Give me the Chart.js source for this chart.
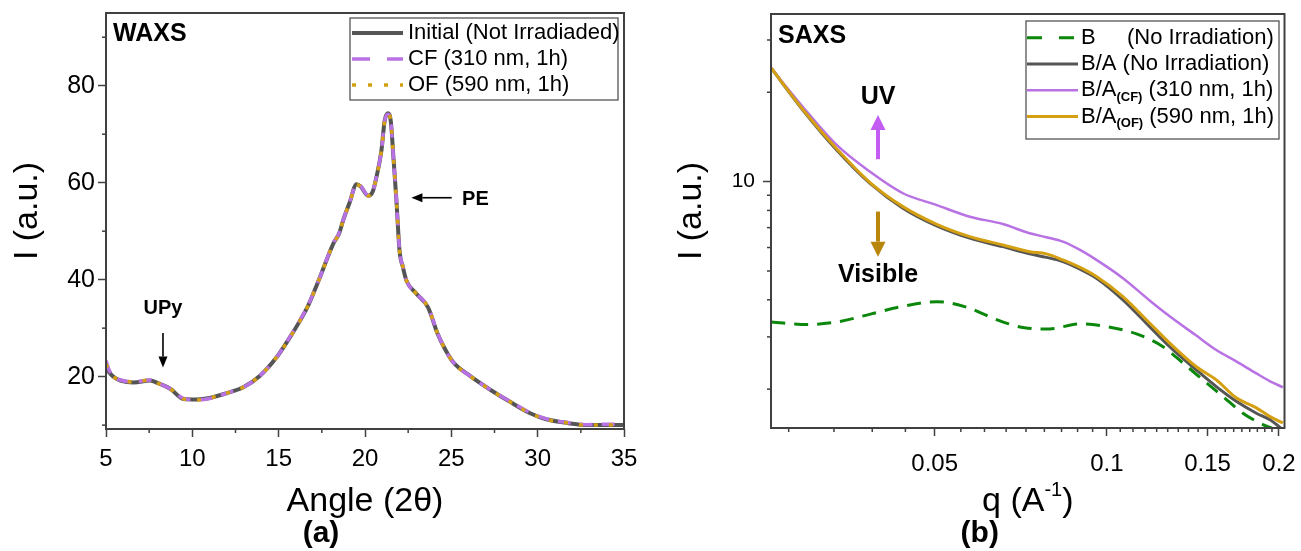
<!DOCTYPE html>
<html><head><meta charset="utf-8">
<script src="https://cdn.jsdelivr.net/npm/chart.js@4.4.1/dist/chart.umd.min.js"></script>
<style>
html,body{margin:0;padding:0;background:#fff;}
#wrap{position:relative;width:1301px;height:551px;overflow:hidden;}
#c1{position:absolute;left:0;top:0;width:650px;height:551px;}
#c2{position:absolute;left:650px;top:0;width:651px;height:551px;}
</style></head><body>
<div id="wrap"><canvas id="c1" width="650" height="551"></canvas><canvas id="c2" width="651" height="551"></canvas></div>
<script>
// ---------------- WAXS data (panel a) ----------------
const waxsAngle = [5.0, 5.2, 5.5, 5.83, 6.6, 7.56, 8.04, 8.72, 9.49, 10.26, 11.0, 12.0, 12.95, 13.92, 14.88, 15.65, 16.23, 16.7, 17.39, 18.16, 18.5, 18.73, 19.1, 19.51, 19.75, 20.18, 20.45, 20.66, 20.95, 21.14, 21.34, 21.5, 21.65, 21.82, 22.0, 22.2, 22.4, 22.98, 23.65, 24.2, 24.6, 25.1, 26.1, 27.3, 28.4, 29.6, 30.5, 31.8, 32.8, 34.0, 35.0];
const waxsInitial = [22.0, 20.8, 19.8, 19.2, 18.8, 19.2, 18.6, 17.5, 15.4, 15.3, 15.6, 16.6, 17.8, 20.2, 24.0, 28.1, 31.5, 34.6, 40.5, 47.4, 49.5, 52.2, 55.8, 59.7, 59.2, 57.3, 58.2, 61.1, 66.6, 72.8, 74.3, 72.5, 65.0, 56.3, 46.0, 42.5, 39.8, 37.1, 34.3, 28.9, 25.9, 23.0, 20.1, 17.2, 14.8, 12.4, 11.2, 10.4, 10.0, 10.0, 10.0];
const waxsCF      = [23.3, 21.2, 19.9, 19.3, 18.9, 19.3, 18.6, 17.5, 15.5, 15.2, 15.5, 16.6, 17.8, 20.2, 24.0, 28.2, 31.6, 34.7, 40.5, 47.5, 49.6, 52.2, 55.9, 59.6, 59.3, 57.4, 58.2, 61.2, 66.6, 72.7, 74.1, 72.4, 65.1, 56.4, 46.1, 42.6, 39.8, 37.1, 34.4, 29.0, 25.9, 23.0, 20.1, 17.2, 14.9, 12.5, 11.3, 10.5, 10.1, 10.2, 10.2];
const waxsOF      = [22.6, 21.0, 19.8, 19.3, 18.9, 19.3, 18.6, 17.5, 15.4, 15.2, 15.6, 16.6, 17.8, 20.2, 24.0, 28.1, 31.5, 34.6, 40.5, 47.4, 49.5, 52.2, 55.8, 59.6, 59.2, 57.3, 58.2, 61.1, 66.6, 72.7, 74.2, 72.5, 65.0, 56.3, 46.0, 42.5, 39.8, 37.1, 34.3, 28.9, 25.9, 23.0, 20.1, 17.2, 14.8, 12.4, 11.2, 10.4, 10.0, 10.0, 10.0];
const waxsXTicks = [5, 10, 15, 20, 25, 30, 35];
const waxsXMinor = [7.5, 12.5, 17.5, 22.5, 27.5, 32.5];
const waxsYTicks = [20, 40, 60, 80];
const waxsYMinor = [10, 30, 50, 70, 90];

// ---------------- SAXS data (panel b) ----------------
const saxsQ  = [0.0259, 0.0294, 0.0337, 0.0385, 0.0440, 0.0503, 0.0576, 0.0658, 0.0733, 0.0784, 0.0838, 0.0896, 0.0959, 0.1067, 0.1188, 0.1288, 0.1434, 0.1554, 0.1684, 0.1826, 0.1926, 0.2032];
const saxsBA = [24.1, 17.43, 12.78, 9.88, 8.14, 7.11, 6.45, 6.04, 5.71, 5.56, 5.38, 5.08, 4.73, 4.00, 3.25, 2.78, 2.32, 2.04, 1.82, 1.66, 1.58, 1.46];
const saxsCF = [24.1, 17.88, 13.29, 10.81, 9.14, 8.35, 7.62, 7.20, 6.70, 6.50, 6.28, 5.90, 5.45, 4.73, 3.98, 3.52, 3.03, 2.71, 2.48, 2.26, 2.13, 2.03];
const saxsOF = [24.1, 17.50, 12.90, 9.95, 8.24, 7.20, 6.53, 6.12, 5.81, 5.71, 5.45, 5.15, 4.79, 4.10, 3.34, 2.86, 2.38, 2.15, 1.87, 1.73, 1.62, 1.54];
const saxsBQ = [0.0259, 0.0300, 0.0338, 0.0386, 0.0434, 0.0505, 0.0568, 0.0639, 0.0718, 0.0794, 0.0896, 0.0998, 0.1127, 0.1254, 0.1359, 0.1472, 0.1596, 0.1730, 0.1874, 0.1979];
const saxsB  = [3.37, 3.30, 3.37, 3.58, 3.78, 3.94, 3.78, 3.44, 3.22, 3.19, 3.32, 3.25, 3.07, 2.78, 2.45, 2.15, 1.89, 1.66, 1.52, 1.46];
const saxsXTicks = [0.05, 0.1, 0.15, 0.2];
const saxsYTicks = [10];
const saxsYMinor = [2, 3, 4, 5, 6, 7, 8, 9, 20, 30];
const saxsXMinor = [];
for (let k = 5; k <= 36; k++) { if (k % 9 !== 0) saxsXMinor.push(0.05 * k / 9); }

// ---------------- styling ----------------
const FONT = "'Liberation Sans', Arial, Helvetica, sans-serif";
const AXIS = '#404040';
const C_GRAY = '#555555', C_PURPLE = '#b872e4', C_GOLD = '#d4a012', C_GREEN = '#0b870b';
Chart.defaults.font.family = FONT;

const pts = (xs, ys) => xs.map((x, i) => ({ x: x, y: ys[i] }));

function drawArrow(ctx, x1, y1, x2, y2, color, lw, headLen, headW) {
  const ang = Math.atan2(y2 - y1, x2 - x1);
  const bx = x2 - headLen * Math.cos(ang), by = y2 - headLen * Math.sin(ang);
  ctx.save();
  ctx.strokeStyle = color; ctx.fillStyle = color; ctx.lineWidth = lw;
  ctx.beginPath(); ctx.moveTo(x1, y1); ctx.lineTo(bx, by); ctx.stroke();
  ctx.beginPath(); ctx.moveTo(x2, y2);
  ctx.lineTo(bx + headW / 2 * Math.sin(ang), by - headW / 2 * Math.cos(ang));
  ctx.lineTo(bx - headW / 2 * Math.sin(ang), by + headW / 2 * Math.cos(ang));
  ctx.closePath(); ctx.fill();
  ctx.restore();
}

function drawLegend(chart, box, rows) {
  const ctx = chart.ctx;
  ctx.save();
  ctx.fillStyle = '#fff'; ctx.fillRect(box.x, box.y, box.w, box.h);
  ctx.strokeStyle = '#555'; ctx.lineWidth = 1.3; ctx.strokeRect(box.x, box.y, box.w, box.h);
  rows.forEach((r, i) => {
    const ds = chart.data.datasets[r.ds];
    const y = box.y + box.row0 + i * box.dy;
    ctx.strokeStyle = ds.borderColor; ctx.lineWidth = ds.borderWidth;
    ctx.setLineDash(r.dash || ds.borderDash || []);
    ctx.beginPath(); ctx.moveTo(box.x + box.s0, y); ctx.lineTo(box.x + box.s1, y); ctx.stroke();
    ctx.setLineDash([]);
    let x = box.x + box.tx;
    ctx.fillStyle = '#000'; ctx.textBaseline = 'middle'; ctx.textAlign = 'left';
    r.parts.forEach(p => {
      ctx.font = p.font;
      if (p.at != null) x = box.x + p.at;
      ctx.fillText(p.t, x, y + (p.dy || 0));
      x += ctx.measureText(p.t).width;
    });
  });
  ctx.restore();
}

function minorTickPlugin(xMinor, yMinor, len) {
  return {
    id: 'minorTicks',
    afterDatasetsDraw(chart) {
      const ctx = chart.ctx, a = chart.chartArea;
      ctx.save(); ctx.strokeStyle = AXIS; ctx.lineWidth = 1.5;
      xMinor.forEach(v => {
        const px = chart.scales.x.getPixelForValue(v);
        if (px < a.left - 0.5 || px > a.right + 0.5) return;
        ctx.beginPath(); ctx.moveTo(px, a.bottom); ctx.lineTo(px, a.bottom + len); ctx.stroke();
      });
      yMinor.forEach(v => {
        const py = chart.scales.y.getPixelForValue(v);
        if (py < a.top - 0.5 || py > a.bottom + 0.5) return;
        ctx.beginPath(); ctx.moveTo(a.left, py); ctx.lineTo(a.left - len, py); ctx.stroke();
      });
      ctx.lineWidth = 2; ctx.strokeStyle = AXIS;
      ctx.strokeRect(a.left, a.top, a.right - a.left, a.bottom - a.top);
      ctx.restore();
    }
  };
}

function zeroPad(s) { s.paddingTop = 0; s.paddingBottom = 0; s.paddingLeft = 0; s.paddingRight = 0; }

function baseScales(xType, yType, xMin, xMax, yMin, yMax, xTicks, yTicks, yAxisWidth, xAxisHeight, xPad, yPad, yFont) {
  return {
    x: {
      type: xType, min: xMin, max: xMax,
      afterBuildTicks: s => { s.ticks = xTicks.map(v => ({ value: v })); },
      afterFit: s => { s.height = xAxisHeight; zeroPad(s); },
      ticks: { autoSkip: false, maxRotation: 0, minRotation: 0, padding: xPad, color: '#000', font: { family: FONT, size: 24 },
               callback: v => String(v) },
      grid: { drawOnChartArea: false, drawTicks: true, tickLength: 8, tickColor: AXIS, tickWidth: 1.5 },
      border: { display: false }
    },
    y: {
      type: yType, min: yMin, max: yMax,
      afterBuildTicks: s => { s.ticks = yTicks.map(v => ({ value: v })); },
      afterFit: s => { s.width = yAxisWidth; zeroPad(s); },
      ticks: { autoSkip: false, padding: yPad, color: '#000', font: { family: FONT, size: yFont },
               callback: v => String(v) },
      grid: { drawOnChartArea: false, drawTicks: true, tickLength: 8, tickColor: AXIS, tickWidth: 1.5 },
      border: { display: false }
    }
  };
}

// ---------------- Chart (a) WAXS ----------------
new Chart(document.getElementById('c1'), {
  type: 'line',
  data: {
    datasets: [
      { label: 'Initial (Not Irradiaded)', data: pts(waxsAngle, waxsInitial), borderColor: C_GRAY, borderWidth: 4, order: 2 },
      { label: 'CF (310 nm, 1h)', data: pts(waxsAngle, waxsCF), borderColor: C_PURPLE, borderWidth: 3.5, borderDash: [13, 9], order: 1 },
      { label: 'OF (590 nm, 1h)', data: pts(waxsAngle, waxsOF), borderColor: C_GOLD, borderWidth: 3.5, borderDash: [4, 11], order: 0 }
    ]
  },
  options: {
    responsive: false, animation: false, devicePixelRatio: 1,
    layout: { padding: { left: 0, top: 13, right: 26, bottom: 0 } },
    elements: { point: { radius: 0 }, line: { cubicInterpolationMode: 'monotone', borderCapStyle: 'butt', fill: false } },
    plugins: { legend: { display: false }, tooltip: { enabled: false } },
    scales: baseScales('linear', 'linear', 5, 35, 9.2, 95, waxsXTicks, waxsYTicks, 106, 122, 8, 3, 25)
  },
  plugins: [
    minorTickPlugin(waxsXMinor, waxsYMinor, 4),
    {
      id: 'decorA',
      afterDraw(chart) {
        const ctx = chart.ctx, a = chart.chartArea, sx = chart.scales.x, sy = chart.scales.y;
        ctx.save();
        ctx.fillStyle = '#000'; ctx.textBaseline = 'middle'; ctx.textAlign = 'left';
        ctx.font = 'bold 25px ' + FONT;
        ctx.fillText('WAXS', a.left + 7, a.top + 21);
        ctx.font = 'bold 20px ' + FONT; ctx.textAlign = 'center';
        ctx.fillText('UPy', sx.getPixelForValue(8.3), sy.getPixelForValue(34.0));
        drawArrow(ctx, sx.getPixelForValue(8.3), sy.getPixelForValue(29.0), sx.getPixelForValue(8.3), sy.getPixelForValue(21.9), '#000', 1.6, 11, 9);
        ctx.textAlign = 'left';
        ctx.fillText('PE', sx.getPixelForValue(25.62), sy.getPixelForValue(56.6));
        drawArrow(ctx, sx.getPixelForValue(25.02), sy.getPixelForValue(56.9), sx.getPixelForValue(22.69), sy.getPixelForValue(56.9), '#000', 1.6, 11, 9);
        const cx = (a.left + a.right) / 2;
        ctx.textBaseline = 'alphabetic'; ctx.textAlign = 'center';
        ctx.font = '34px ' + FONT;
        ctx.fillText('Angle (2\u03B8)', cx, 511);
        ctx.font = 'bold 30px ' + FONT;
        ctx.fillText('(a)', cx - 44, 542);
        ctx.save();
        ctx.translate(37, 211); ctx.rotate(-Math.PI / 2);
        ctx.font = '34px ' + FONT; ctx.textAlign = 'center';
        ctx.fillText('I (a.u.)', 0, 0);
        ctx.restore();
        ctx.restore();
        const F = '22px ' + FONT;
        drawLegend(chart, { x: a.right - 274, y: a.top + 5, w: 268, h: 82, row0: 15, dy: 26, s0: 2, s1: 53, tx: 58 }, [
          { ds: 0, parts: [{ t: 'Initial (Not Irradiaded)', font: F }] },
          { ds: 1, dash: [18, 17], parts: [{ t: 'CF (310 nm, 1h)', font: F }] },
          { ds: 2, dash: [4, 12], parts: [{ t: 'OF (590 nm, 1h)', font: F }] }
        ]);
      }
    }
  ]
});

// ---------------- Chart (b) SAXS ----------------
new Chart(document.getElementById('c2'), {
  type: 'line',
  data: {
    datasets: [
      { label: 'B (No Irradiation)', data: pts(saxsBQ, saxsB), borderColor: C_GREEN, borderWidth: 3, borderDash: [14, 9], order: 3 },
      { label: 'B/A (No Irradiation)', data: pts(saxsQ, saxsBA), borderColor: C_GRAY, borderWidth: 3, order: 2 },
      { label: 'B/A(CF) (310 nm, 1h)', data: pts(saxsQ, saxsCF), borderColor: C_PURPLE, borderWidth: 2.5, order: 1 },
      { label: 'B/A(OF) (590 nm, 1h)', data: pts(saxsQ, saxsOF), borderColor: C_GOLD, borderWidth: 3, order: 0 }
    ]
  },
  options: {
    responsive: false, animation: false, devicePixelRatio: 1,
    layout: { padding: { left: 0, top: 14, right: 16.5, bottom: 0 } },
    elements: { point: { radius: 0 }, line: { cubicInterpolationMode: 'monotone', borderCapStyle: 'butt', fill: false } },
    plugins: { legend: { display: false }, tooltip: { enabled: false } },
    scales: baseScales('logarithmic', 'logarithmic', 0.02587, 0.2045, 1.48, 36.7, saxsXTicks, saxsYTicks, 121, 123, 14, 8, 21)
  },
  plugins: [
    minorTickPlugin(saxsXMinor, saxsYMinor, 4),
    {
      id: 'decorB',
      afterDraw(chart) {
        const ctx = chart.ctx, a = chart.chartArea, sx = chart.scales.x, sy = chart.scales.y;
        ctx.save();
        ctx.fillStyle = '#000'; ctx.textBaseline = 'middle'; ctx.textAlign = 'left';
        ctx.font = 'bold 25px ' + FONT;
        ctx.fillText('SAXS', a.left + 7, a.top + 22);
        const qa = sx.getPixelForValue(0.0398);
        ctx.textAlign = 'center';
        ctx.fillText('UV', qa, sy.getPixelForValue(19.3));
        ctx.fillText('Visible', qa, sy.getPixelForValue(4.83));
        drawArrow(ctx, qa, sy.getPixelForValue(11.9), qa, sy.getPixelForValue(16.77), '#c25cf2', 4, 15, 15);
        drawArrow(ctx, qa, sy.getPixelForValue(7.93), qa, sy.getPixelForValue(5.59), '#b8860b', 4, 15, 15);
        const cx = (a.left + a.right) / 2;
        ctx.textBaseline = 'alphabetic';
        ctx.font = '34px ' + FONT;
        const t1 = 'q (A', t2 = '-1', t3 = ')';
        const w1 = ctx.measureText(t1).width, w3 = ctx.measureText(t3).width;
        ctx.font = '20px ' + FONT;
        const w2 = ctx.measureText(t2).width;
        let x0 = cx - (w1 + w2 + w3) / 2;
        ctx.textAlign = 'left';
        ctx.font = '34px ' + FONT; ctx.fillText(t1, x0, 511);
        ctx.font = '20px ' + FONT; ctx.fillText(t2, x0 + w1, 496);
        ctx.font = '34px ' + FONT; ctx.fillText(t3, x0 + w1 + w2, 511);
        ctx.textAlign = 'center';
        ctx.font = 'bold 30px ' + FONT;
        ctx.fillText('(b)', cx - 48, 542);
        ctx.save();
        ctx.translate(51, 211); ctx.rotate(-Math.PI / 2);
        ctx.font = '34px ' + FONT; ctx.textAlign = 'center';
        ctx.fillText('I (a.u.)', 0, 0);
        ctx.restore();
        ctx.restore();
        const F = '22px ' + FONT, S = 'bold 13px ' + FONT;
        drawLegend(chart, { x: a.right - 258.5, y: a.top + 7, w: 253, h: 118, row0: 16.7, dy: 26.3, s0: 1, s1: 52, tx: 55 }, [
          { ds: 0, dash: [15, 17], parts: [{ t: 'B', font: F }, { t: '(No Irradiation)', font: F, at: 101 }] },
          { ds: 1, parts: [{ t: 'B/A (No Irradiation)', font: F }] },
          { ds: 2, parts: [{ t: 'B/A', font: F }, { t: '(CF)', font: S, dy: 7 }, { t: ' (310 nm, 1h)', font: F }] },
          { ds: 3, parts: [{ t: 'B/A', font: F }, { t: '(OF)', font: S, dy: 7 }, { t: ' (590 nm, 1h)', font: F }] }
        ]);
      }
    }
  ]
});
</script></body></html>
